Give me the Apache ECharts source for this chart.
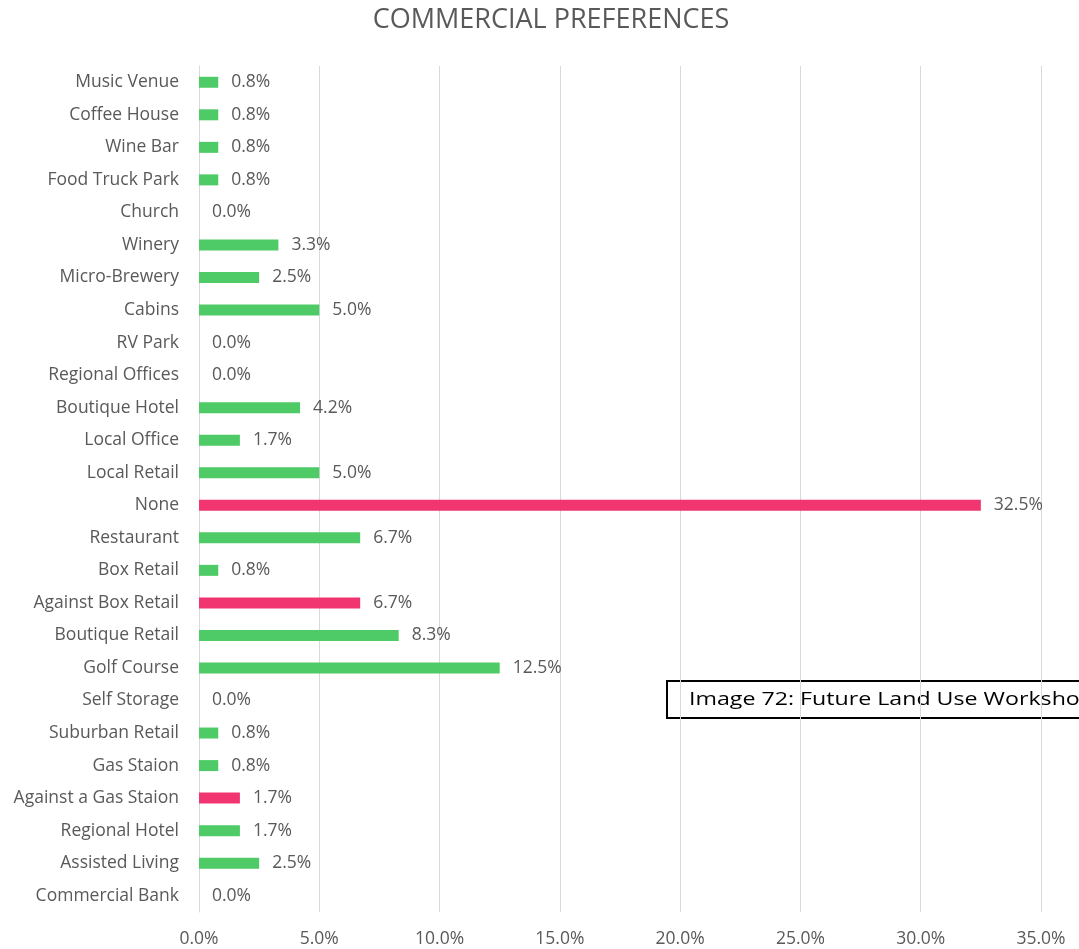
<!DOCTYPE html>
<html>
<head>
<meta charset="utf-8">
<style>
  html, body { margin: 0; padding: 0; background: #ffffff; }
  #chart { width: 1079px; height: 949px; }
</style>
<script src="https://cdn.jsdelivr.net/npm/echarts@6/dist/echarts.min.js"></script>
</head>
<body>
<div id="chart"></div>
<script>
// Survey responses, listed top to bottom
const categories = [
  'Music Venue', 'Coffee House', 'Wine Bar', 'Food Truck Park', 'Church',
  'Winery', 'Micro-Brewery', 'Cabins', 'RV Park', 'Regional Offices',
  'Boutique Hotel', 'Local Office', 'Local Retail', 'None', 'Restaurant',
  'Box Retail', 'Against Box Retail', 'Boutique Retail', 'Golf Course',
  'Self Storage', 'Suburban Retail', 'Gas Staion', 'Against a Gas Staion',
  'Regional Hotel', 'Assisted Living', 'Commercial Bank'
];
const shares = [
  0.8, 0.8, 0.8, 0.8, 0.0,
  3.3, 2.5, 5.0, 0.0, 0.0,
  4.2, 1.7, 5.0, 32.5, 6.7,
  0.8, 6.7, 8.3, 12.5,
  0.0, 0.8, 0.8, 1.7,
  1.7, 2.5, 0.0
];
// Responses that oppose development are shown in pink
const opposing = ['None', 'Against Box Retail', 'Against a Gas Staion'];
const xTicks = [0, 5, 10, 15, 20, 25, 30, 35];

const GREEN = '#4ECB67';
const PINK = '#F03570';
const TEXT = '#595959';
const FONT = '"Open Sans", "Noto Sans", sans-serif';

const chart = echarts.init(document.getElementById('chart'), null, { renderer: 'canvas' });

chart.setOption({
  animation: false,
  backgroundColor: '#ffffff',
  title: {
    text: 'COMMERCIAL PREFERENCES',
    left: 546,
    textAlign: 'center',
    top: 2,
    textStyle: { color: TEXT, fontFamily: FONT, fontSize: 27, fontWeight: 'normal' }
  },
  grid: { left: 199, right: 38, top: 66, bottom: 37, containLabel: false },
  xAxis: {
    type: 'value',
    min: xTicks[0],
    max: xTicks[xTicks.length - 1],
    interval: 5,
    axisLine: { show: false },
    axisTick: { show: false },
    splitLine: { show: true, lineStyle: { color: '#d9d9d9', width: 1 } },
    axisLabel: {
      color: TEXT, fontFamily: FONT, fontSize: 17.5, margin: 18,
      formatter: v => v.toFixed(1) + '%'
    }
  },
  yAxis: {
    type: 'category',
    data: categories,
    inverse: true,
    axisLine: { show: true, lineStyle: { color: '#d9d9d9', width: 1 } },
    axisTick: { show: false },
    axisLabel: { color: TEXT, fontFamily: FONT, fontSize: 17.5, margin: 20 }
  },
  series: [{
    type: 'bar',
    barWidth: 11,
    data: shares.map((v, i) => ({
      value: v,
      itemStyle: { color: opposing.includes(categories[i]) ? PINK : GREEN }
    })),
    label: {
      show: true,
      position: 'right',
      distance: 13,
      color: TEXT,
      fontFamily: FONT,
      fontSize: 17.5,
      formatter: p => p.value.toFixed(1) + '%'
    }
  }],
  graphic: [{
    type: 'group',
    left: 666,
    top: 680,
    children: [
      {
        type: 'rect',
        shape: { x: 0, y: 0, width: 440, height: 37 },
        style: { fill: '#ffffff', stroke: '#000000', lineWidth: 2 }
      },
      {
        type: 'text',
        x: 22,
        y: 18.5,
        scaleX: 1.22,
        style: {
          text: 'Image 72: Future Land Use Workshop',
          fill: '#000000',
          font: '19px "Open Sans", "Noto Sans", sans-serif',
          verticalAlign: 'middle'
        }
      }
    ]
  }]
});
</script>
</body>
</html>
